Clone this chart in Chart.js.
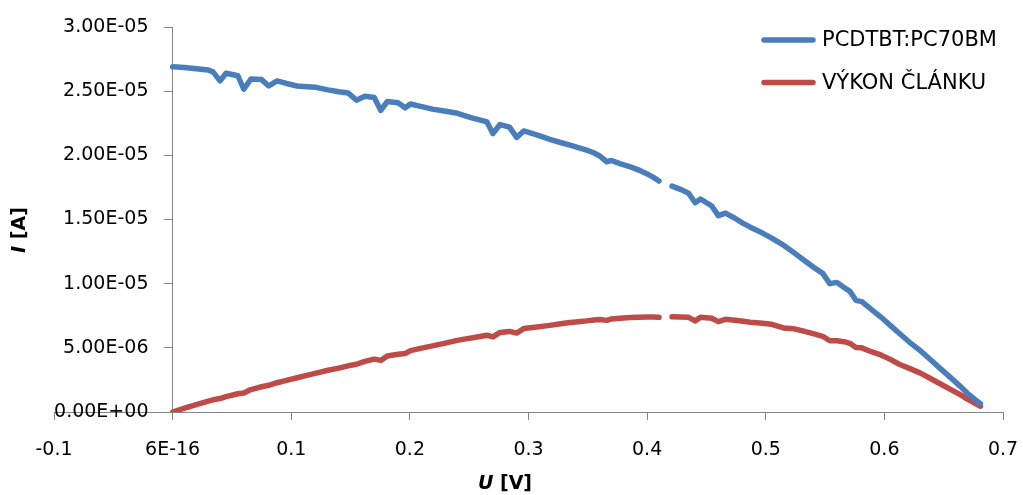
<!DOCTYPE html>
<html>
<head>
<meta charset="utf-8">
<script src="https://cdn.jsdelivr.net/npm/chart.js@4.4.1/dist/chart.umd.min.js"></script>
<style>
  html, body { margin: 0; padding: 0; background: #fff; }
  #wrap { width: 1023px; height: 495px; position: relative; }
</style>
</head>
<body>
<div id="wrap"><canvas id="ivChart"></canvas></div>
<script>
const seriesNames = ['PCDTBT:PC70BM', 'VÝKON ČLÁNKU'];

// U [V]
const voltage = [
  0.000, 0.010, 0.020, 0.030, 0.034, 0.040, 0.045, 0.055, 0.060, 0.066,
  0.075, 0.081, 0.088, 0.096, 0.105, 0.113, 0.121, 0.131, 0.140, 0.148,
  0.155, 0.162, 0.170, 0.1755, 0.181, 0.190, 0.196, 0.2005, 0.210, 0.219,
  0.229, 0.239, 0.246, 0.253, 0.265, 0.270, 0.276, 0.284, 0.290, 0.296,
  0.307, 0.318, 0.327, 0.335, 0.342, 0.349, 0.355, 0.360, 0.366, 0.370,
  0.377, 0.386, 0.393, 0.400, 0.405, 0.410, 0.415, 0.421, 0.428, 0.435,
  0.4405, 0.445, 0.4545, 0.460, 0.466, 0.474, 0.481, 0.487, 0.495, 0.505,
  0.515, 0.524, 0.532, 0.540, 0.548, 0.554, 0.560, 0.566, 0.571, 0.576,
  0.581, 0.589, 0.597, 0.605, 0.613, 0.621, 0.630, 0.638, 0.647, 0.658,
  0.664, 0.670, 0.676, 0.681
];

// I, in units of 1E-06 A (null = missing point)
const current = [
  26.9, 26.85, 26.75, 26.65, 26.5, 25.8, 26.4, 26.2, 25.15, 25.95,
  25.9, 25.4, 25.8, 25.6, 25.4, 25.35, 25.3, 25.1, 24.95, 24.85,
  24.3, 24.6, 24.5, 23.5, 24.2, 24.1, 23.7, 24.0, 23.8, 23.6,
  23.45, 23.3, 23.1, 22.9, 22.6, 21.7, 22.4, 22.2, 21.4, 21.9,
  21.6, 21.25, 21.0, 20.8, 20.6, 20.4, 20.2, 19.95, 19.5, 19.6,
  19.35, 19.1, 18.85, 18.55, 18.3, 18.0, null, 17.6, 17.35, 17.05,
  16.3, 16.6, 16.05, 15.3, 15.5, 15.1, 14.7, 14.4, 14.05, 13.55,
  13.0, 12.4, 11.85, 11.3, 10.8, 10.0, 10.1, 9.7, 9.4, 8.7,
  8.6, 8.0, 7.4, 6.75, 6.1, 5.45, 4.8, 4.15, 3.4, 2.5,
  2.0, 1.46, 1.0, 0.65
];

// cell power, same 1E-06 units
const power = [
  0.00, 0.30, 0.58, 0.85, 0.95, 1.05, 1.20, 1.42, 1.48, 1.75,
  1.97, 2.08, 2.28, 2.47, 2.67, 2.85, 3.03, 3.25, 3.42, 3.60,
  3.72, 3.95, 4.12, 4.02, 4.37, 4.50, 4.55, 4.78, 4.98, 5.15,
  5.35, 5.56, 5.68, 5.78, 5.98, 5.85, 6.20, 6.28, 6.15, 6.50,
  6.62, 6.75, 6.87, 6.97, 7.04, 7.10, 7.17, 7.20, 7.14, 7.25,
  7.30, 7.36, 7.38, 7.40, 7.40, 7.38, null, 7.42, 7.40, 7.38,
  7.10, 7.38, 7.30, 7.04, 7.22, 7.15, 7.07, 7.00, 6.93, 6.83,
  6.55, 6.48, 6.30, 6.10, 5.90, 5.55, 5.55, 5.48, 5.35, 5.02,
  5.00, 4.70, 4.45, 4.10, 3.70, 3.40, 3.05, 2.65, 2.20, 1.65,
  1.35, 1.00, 0.70, 0.45
];

const xTickLabels = ['-0.1', '6E-16', '0.1', '0.2', '0.3', '0.4', '0.5', '0.6', '0.7'];
const yTickLabels = ['0.00E+00', '5.00E-06', '1.00E-05', '1.50E-05', '2.00E-05', '2.50E-05', '3.00E-05'];

const colors = ['#4A7EBB', '#BE4B48'];
const axisGray = '#868686';
const FONT = "'DejaVu Sans', sans-serif";

function toPoints(ys) {
  return voltage.map((u, i) => ({ x: u, y: ys[i] }));
}

// draws a label made of several parts with different font styles
function drawParts(ctx, parts, cx, cy) {
  let total = 0;
  parts.forEach(p => { ctx.font = p.font; total += ctx.measureText(p.text).width; });
  let x = cx - total / 2;
  parts.forEach(p => {
    ctx.font = p.font;
    ctx.fillText(p.text, x, cy);
    x += ctx.measureText(p.text).width;
  });
}

const overlayText = {
  id: 'overlayText',
  afterDraw(chart) {
    const ctx = chart.ctx;
    ctx.save();
    ctx.fillStyle = '#000';
    ctx.textAlign = 'left';
    ctx.textBaseline = 'middle';

    // legend
    chart.data.datasets.forEach((ds, i) => {
      const y = 40 + i * 42.5;
      ctx.strokeStyle = ds.borderColor;
      ctx.lineWidth = 5.5;
      ctx.lineCap = 'round';
      ctx.beginPath();
      ctx.moveTo(764, y);
      ctx.lineTo(813, y);
      ctx.stroke();
      ctx.font = '21px ' + FONT;
      ctx.fillText(ds.label, 822, y + 1);
    });

    // axis titles
    drawParts(ctx, [
      { text: 'U', font: 'italic bold 19px ' + FONT },
      { text: ' [V]', font: 'bold 19px ' + FONT }
    ], 505, 484);

    ctx.translate(20, 230);
    ctx.rotate(-Math.PI / 2);
    drawParts(ctx, [
      { text: 'I', font: 'italic bold 19px ' + FONT },
      { text: ' [A]', font: 'bold 19px ' + FONT }
    ], 0, 0);
    ctx.restore();
  }
};

const ctx = document.getElementById('ivChart').getContext('2d');
const chart = new Chart(ctx, {
  type: 'line',
  data: {
    datasets: [
      {
        label: seriesNames[0],
        data: toPoints(current),
        borderColor: colors[0],
        backgroundColor: colors[0],
        borderWidth: 5.5,
        pointRadius: 0,
        tension: 0,
        spanGaps: false,
        borderJoinStyle: 'round',
        borderCapStyle: 'round'
      },
      {
        label: seriesNames[1],
        data: toPoints(power),
        borderColor: colors[1],
        backgroundColor: colors[1],
        borderWidth: 5.5,
        pointRadius: 0,
        tension: 0,
        spanGaps: false,
        borderJoinStyle: 'round',
        borderCapStyle: 'round'
      }
    ]
  },
  options: {
    responsive: true,
    maintainAspectRatio: false,
    animation: false,
    layout: { padding: { left: 54, right: 20, top: 27, bottom: 0 } },
    plugins: {
      legend: { display: false },
      tooltip: { enabled: false }
    },
    scales: {
      x: {
        type: 'linear',
        min: -0.1,
        max: 0.7,
        afterFit: s => {
          s.height = 83;
          s.paddingLeft = 0;
          s.paddingRight = 0;
        },
        ticks: {
          stepSize: 0.1,
          autoSkip: false,
          maxRotation: 0,
          padding: 19,
          color: '#000',
          font: { family: FONT, size: 19 },
          callback: (v, i) => xTickLabels[i]
        },
        grid: { drawOnChartArea: false, drawTicks: true, tickLength: 8, color: axisGray },
        border: { color: axisGray, width: 1 }
      },
      y: {
        position: { x: 0 },
        min: 0,
        max: 30,
        ticks: {
          stepSize: 5,
          color: '#000',
          font: { family: FONT, size: 19 },
          // trailing spaces keep the labels clear of the tick marks
          callback: (v, i) => yTickLabels[i] + '    '
        },
        grid: { drawOnChartArea: false, drawTicks: true, tickLength: 8, color: axisGray },
        border: { color: axisGray, width: 1 }
      }
    }
  },
  plugins: [overlayText]
});
</script>
</body>
</html>
